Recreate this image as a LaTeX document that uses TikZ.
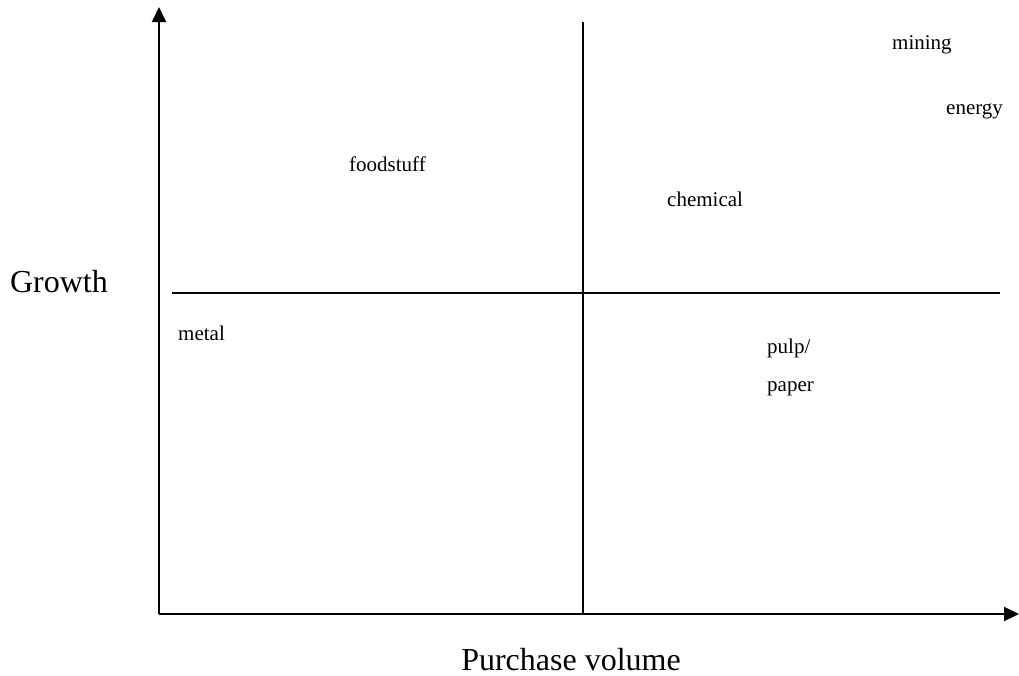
\documentclass[tikz,border=0pt]{standalone}
\usepackage{fontspec}
\setmainfont{Liberation Serif}
\usetikzlibrary{arrows.meta}
\begin{document}
\begin{tikzpicture}[x=1pt,y=-1pt,
  axis/.style={line width=2pt,-{Triangle[length=15pt,width=14pt]}},
  divider/.style={line width=2pt},
  sector/.style={font=\fontsize{21}{25}\selectfont,anchor=base west,inner sep=0pt},
  axislabel/.style={font=\fontsize{32}{38}\selectfont,anchor=base,inner sep=0pt}]
  \useasboundingbox (0,0) rectangle (1019,675);
  % axes
  \coordinate (origin) at (159,614);
  \coordinate (ytip) at (159,7);
  \coordinate (xtip) at (1019,614);
  \draw[axis] (origin) -- (ytip);
  \draw[axis] (origin) -- (xtip);
  % quadrant dividers
  \coordinate (vtop) at (583,22);
  \coordinate (vbot) at (583,614);
  \coordinate (hleft) at (172,293);
  \coordinate (hright) at (1000,293);
  \draw[divider] (vtop) -- (vbot);
  \draw[divider] (hleft) -- (hright);
  % axis titles
  \node[axislabel] (growth) at (59,292) {Growth};
  \node[axislabel] (volume) at (571,670) {Purchase volume};
  % sectors
  \node[sector] (foodstuff) at (349,171) {foodstuff};
  \node[sector] (chemical) at (667,206) {chemical};
  \node[sector] (metal) at (178,340) {metal};
  \node[sector] (mining) at (892,49) {mining};
  \node[sector] (energy) at (946,114) {energy};
  \node[sector] (pulp) at (767,353) {pulp/};
  \node[sector] (paper) at (767,391) {paper};
\end{tikzpicture}
\end{document}
